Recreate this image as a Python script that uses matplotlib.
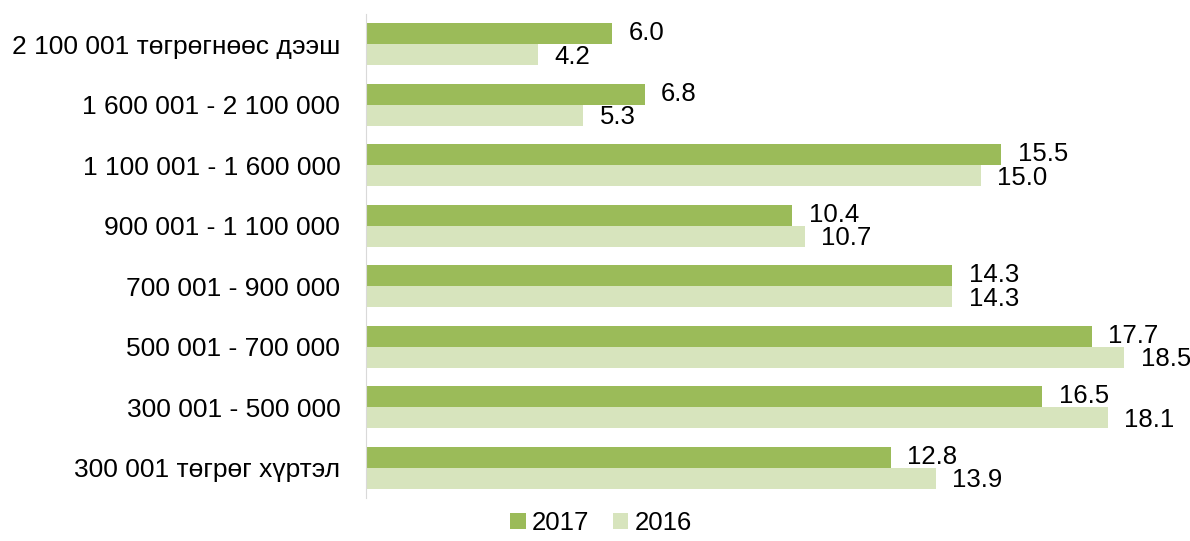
import matplotlib.pyplot as plt
import numpy as np

plt.rcParams['font.family'] = ['Liberation Sans', 'DejaVu Sans']

categories = ["2 100 001 төгрөгнөөс дээш", "1 600 001 - 2 100 000",
              "1 100 001 - 1 600 000", "900 001 - 1 100 000",
              "700 001 - 900 000", "500 001 - 700 000",
              "300 001 - 500 000", "300 001 төгрөг хүртэл"]
vals_2017 = [6.0, 6.8, 15.5, 10.4, 14.3, 17.7, 16.5, 12.8]
vals_2016 = [4.2, 5.3, 15.0, 10.7, 14.3, 18.5, 18.1, 13.9]

c2017 = "#9BBB59"
c2016 = "#D7E4BD"

fig = plt.figure(figsize=(11.9, 5.41), dpi=100)
ax = fig.add_axes([0.3076, 0.0795, 0.6924, 0.8945])

y = np.arange(len(categories))
h = 0.35
b1 = ax.barh(y - h / 2, vals_2017, height=h, color=c2017, label="2017")
b2 = ax.barh(y + h / 2, vals_2016, height=h, color=c2016, label="2016")

# value labels, nudged a little apart
for bars, vals, dy in ((b1, vals_2017, -0.01), (b2, vals_2016, 0.03)):
    for bar, v in zip(bars, vals):
        ax.text(v + 0.4, bar.get_y() + bar.get_height() / 2 + dy, f"{v:.1f}",
                va="center", ha="left", fontsize=18.5, color="black")

ax.set_ylim(len(categories) - 0.5, -0.5)
ax.set_xlim(0, 20.1)
ax.set_yticks(y)
ax.set_yticklabels(categories, fontsize=19)
ax.set_xticks([])
ax.tick_params(axis="y", length=0, pad=18.5)
for s in ["top", "right", "bottom"]:
    ax.spines[s].set_visible(False)
ax.spines["left"].set_color("#D9D9D9")

fig.legend(handles=[b1, b2], labels=["2017", "2016"], loc="lower center",
           bbox_to_anchor=(0.505, -0.032), ncol=2, frameon=False, fontsize=18.5,
           handlelength=0.6, handleheight=0.6, handletextpad=0.25, columnspacing=0.9)

fig.savefig("out.png", dpi=100)
